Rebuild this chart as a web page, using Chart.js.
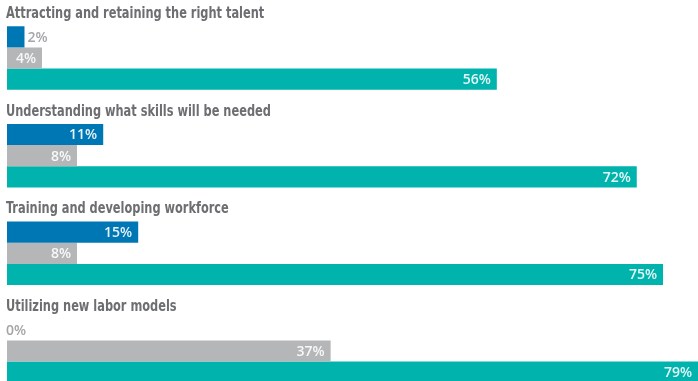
<!DOCTYPE html>
<html>
<head>
<meta charset="utf-8">
<script src="https://cdn.jsdelivr.net/npm/chart.js@4/dist/chart.umd.min.js"></script>
<style>
  html, body { margin: 0; padding: 0; background: #fff; }
  #wrap { width: 698px; height: 381px; position: relative; }
</style>
</head>
<body>
<div id="wrap"><canvas id="grafico"></canvas></div>
<script>
// Categorías y valores por serie (porcentaje)
const categorias = [
  'Attracting and retaining the right talent',
  'Understanding what skills will be needed',
  'Training and developing workforce',
  'Utilizing new labor models'
];
const serieAzul = [2, 11, 15, 0];
const serieGris = [4, 8, 8, 37];
const serieVerde = [56, 72, 75, 79];

const colores = ['#0077b5', '#b4b6b7', '#00b3ad'];

const fuenteTitulo = 'bold 16px "DejaVu Sans Condensed", "DejaVu Sans", sans-serif';
const fuenteValor = '600 14px "Open Sans", sans-serif';

// Títulos de cada grupo y etiquetas de valor
const etiquetas = {
  id: 'etiquetas',
  afterDatasetsDraw(chart) {
    const { ctx, scales } = chart;
    ctx.save();
    ctx.textBaseline = 'middle';

    // títulos algo más estrechos (letra condensada)
    ctx.font = fuenteTitulo;
    ctx.fillStyle = '#6d6e71';
    ctx.textAlign = 'left';
    categorias.forEach((c, i) => {
      ctx.save();
      ctx.translate(6, scales.y.getPixelForValue(i) - 44);
      ctx.scale(0.79, 1);
      ctx.fillText(c, 0, 0);
      ctx.restore();
    });

    ctx.font = fuenteValor;
    chart.data.datasets.forEach((ds, d) => {
      chart.getDatasetMeta(d).data.forEach((bar, i) => {
        const txt = ds.data[i] + '%';
        const w = ctx.measureText(txt).width;
        const ancho = bar.x - bar.base;
        if (ancho > w + 10) {
          ctx.fillStyle = 'rgba(255,255,255,0.9)';
          ctx.textAlign = 'right';
          ctx.fillText(txt, bar.x - 6, bar.y + 1);
        } else {
          ctx.fillStyle = '#a3a5a7';
          ctx.textAlign = 'left';
          ctx.fillText(txt, bar.x + (ancho > 0 ? 3 : -1), bar.y + 1);
        }
      });
    });
    ctx.restore();
  }
};

new Chart(document.getElementById('grafico'), {
  type: 'bar',
  data: {
    labels: categorias,
    datasets: [
      { data: serieAzul, backgroundColor: colores[0] },
      { data: serieGris, backgroundColor: colores[1] },
      { data: serieVerde, backgroundColor: colores[2] }
    ]
  },
  options: {
    indexAxis: 'y',
    responsive: true,
    maintainAspectRatio: false,
    animation: false,
    layout: { padding: { left: 7, right: 0, top: 58, bottom: 30 } },
    datasets: {
      bar: { categoryPercentage: 0.65, barPercentage: 1, clip: false, borderWidth: 0 }
    },
    scales: {
      x: { min: 0, max: 79, display: false },
      y: { display: false, offset: false }
    },
    plugins: {
      legend: { display: false },
      tooltip: { enabled: false }
    }
  },
  plugins: [etiquetas]
});
</script>
</body>
</html>
